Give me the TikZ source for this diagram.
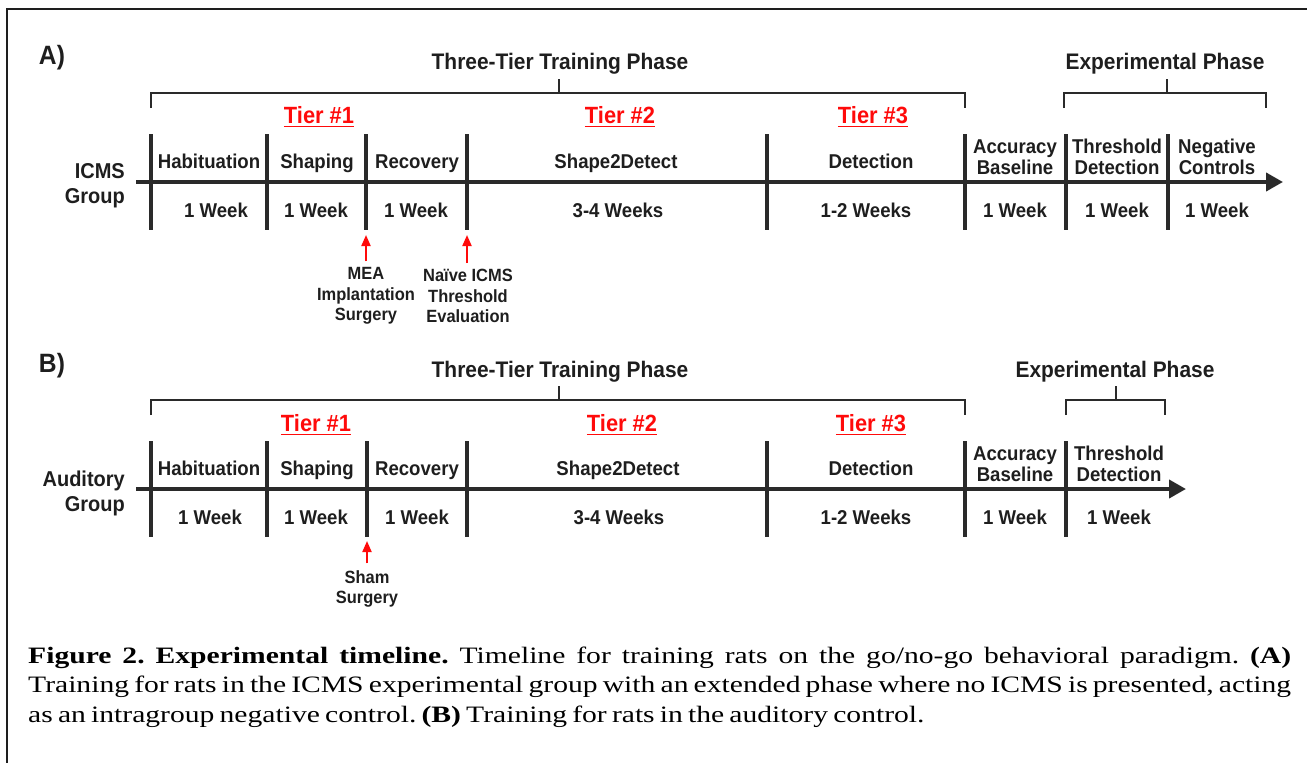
\documentclass[tikz,border=0pt]{standalone}
\usepackage{fontspec}
\setmainfont{Liberation Serif}
\newfontfamily\capfont[FakeStretch=1.26]{Liberation Serif}
\newfontfamily\diag[FakeStretch=0.93]{Liberation Sans}
\usetikzlibrary{arrows.meta}
\definecolor{txt}{HTML}{1E1E1E}
\definecolor{ln}{HTML}{2A2A2A}
\definecolor{tred}{HTML}{FF0A0A}
\tikzset{
  every node/.style={inner sep=0pt, text=txt},
  lbl/.style={font=\diag\bfseries\fontsize{20}{21.5}\selectfont, align=center},
  lblb/.style={lbl, anchor=base},
  small/.style={font=\diag\bfseries\fontsize{17.7}{20.5}\selectfont, align=center},
  grp/.style={font=\diag\bfseries\fontsize{21.5}{25}\selectfont, align=right, anchor=east},
  ttl/.style={font=\diag\bfseries\fontsize{22.5}{26}\selectfont, anchor=base},
  panel/.style={font=\diag\bfseries\fontsize{26.5}{28}\selectfont, anchor=base},
  tier/.style={font=\diag\bfseries\fontsize{23.5}{27}\selectfont, text=tred, anchor=base},
  axisline/.style={draw=ln, line width=4pt, -{Triangle[length=17pt,width=18pt]}},
  divline/.style={draw=ln, line width=3.2pt},
  brk/.style={draw=ln, line width=2.3pt},
  redarr/.style={draw=tred, line width=2pt, -{Triangle[length=11pt,width=9pt]}},
  uline/.style={draw=tred, line width=1.8pt}
}
\begin{document}
\begin{tikzpicture}[x=1pt,y=-1pt]
\useasboundingbox (0,0) rectangle (1307,763);
\draw[line width=2pt, draw=txt] (7,9) rectangle (1330,790);

% ================= Panel A =================
\node[panel] (Alab) at (52,64) {A)};
\node[ttl] (Atitle) at (560,69) {Three-Tier Training Phase};
\node[ttl] (Aexp) at (1165,69) {Experimental Phase};
\draw[brk] (151,108) -- (151,93) -- (965,93) -- (965,108);
\draw[brk] (559,93) -- (559,79);
\draw[brk] (1064,108) -- (1064,93) -- (1266,93) -- (1266,108);
\draw[brk] (1167,93) -- (1167,79);
\foreach \n/\x/\t in {At1/319/1, At2/620/2, At3/873/3}{
  \node[tier] (\n) at (\x,123) {Tier \#\t};
  \draw[uline] ([yshift=-3.5pt]\n.base west) -- ([yshift=-3.5pt]\n.base east);
}
\coordinate (Aax0) at (136,182);
\coordinate (Aax1) at (1283,182);
\draw[axisline] (Aax0) -- (Aax1);
\foreach \x in {151,267,366,467,767,965,1066,1168}{
  \draw[divline] (\x,134) -- (\x,230);
}
\node[grp] (Agrp) at (125,186) {ICMS\\Group};
\node[lblb] (Ahab) at (209,168) {Habituation};
\node[lblb] (Ashp) at (317,168) {Shaping};
\node[lblb] (Arec) at (417,168) {Recovery};
\node[lblb] (As2d) at (616,168) {Shape2Detect};
\node[lblb] (Adet) at (871,168) {Detection};
\node[lbl] (Aacc) at (1015,157) {Accuracy\\Baseline};
\node[lbl] (Athr) at (1117,157) {Threshold\\Detection};
\node[lbl] (Aneg) at (1217,157) {Negative\\Controls};
\node[lblb] (Aw1) at (216,217) {1 Week};
\node[lblb] (Aw2) at (316,217) {1 Week};
\node[lblb] (Aw3) at (416,217) {1 Week};
\node[lblb] (Aw4) at (618,217) {3-4 Weeks};
\node[lblb] (Aw5) at (866,217) {1-2 Weeks};
\node[lblb] (Aw6) at (1015,217) {1 Week};
\node[lblb] (Aw7) at (1117,217) {1 Week};
\node[lblb] (Aw8) at (1217,217) {1 Week};
\node[small] (Amea) at (366,296) {MEA\\Implantation\\Surgery};
\node[small] (Anaive) at (468,296) {Na\"ive ICMS\\Threshold\\Evaluation};
\coordinate (Amea-t) at (366,235);
\coordinate (Anaive-t) at (467,235);
\draw[redarr] ([yshift=6pt]Amea.north) -- (Amea-t);
\draw[redarr] ([yshift=6pt]Anaive.north -| Anaive-t) -- (Anaive-t);

% ================= Panel B =================
\node[panel] (Blab) at (52,372) {B)};
\node[ttl] (Btitle) at (560,377) {Three-Tier Training Phase};
\node[ttl] (Bexp) at (1115,377) {Experimental Phase};
\draw[brk] (151,415) -- (151,400) -- (965,400) -- (965,415);
\draw[brk] (559,400) -- (559,386);
\draw[brk] (1066,415) -- (1066,400) -- (1165,400) -- (1165,415);
\draw[brk] (1116,400) -- (1116,386);
\foreach \n/\x/\t in {Bt1/316/1, Bt2/622/2, Bt3/871/3}{
  \node[tier] (\n) at (\x,431) {Tier \#\t};
  \draw[uline] ([yshift=-3.5pt]\n.base west) -- ([yshift=-3.5pt]\n.base east);
}
\coordinate (Bax0) at (136,489);
\coordinate (Bax1) at (1186,489);
\draw[axisline] (Bax0) -- (Bax1);
\foreach \x in {151,267,367,467,767,965,1066}{
  \draw[divline] (\x,441) -- (\x,537);
}
\node[grp] (Bgrp) at (125,493) {Auditory\\Group};
\node[lblb] (Bhab) at (209,475) {Habituation};
\node[lblb] (Bshp) at (317,475) {Shaping};
\node[lblb] (Brec) at (417,475) {Recovery};
\node[lblb] (Bs2d) at (618,475) {Shape2Detect};
\node[lblb] (Bdet) at (871,475) {Detection};
\node[lbl] (Bacc) at (1015,464) {Accuracy\\Baseline};
\node[lbl] (Bthr) at (1119,464) {Threshold\\Detection};
\node[lblb] (Bw1) at (210,524) {1 Week};
\node[lblb] (Bw2) at (316,524) {1 Week};
\node[lblb] (Bw3) at (417,524) {1 Week};
\node[lblb] (Bw4) at (619,524) {3-4 Weeks};
\node[lblb] (Bw5) at (866,524) {1-2 Weeks};
\node[lblb] (Bw6) at (1015,524) {1 Week};
\node[lblb] (Bw7) at (1119,524) {1 Week};
\node[small] (Bsham) at (367,589) {Sham\\Surgery};
\coordinate (Bsham-t) at (367,541);
\draw[redarr] ([yshift=7pt]Bsham.north) -- (Bsham-t);

% ================= Caption =================
\node[anchor=base west, text=black] (cap) at (28,663)
 {\parbox[t]{1263pt}{\capfont\fontsize{23.5}{29.5}\selectfont\frenchspacing
 \hyphenpenalty=10000 \exhyphenpenalty=10000 \tolerance=9999 \hfuzz=30pt
 \spaceskip=0.22em plus 0.3em minus 0.1em
 \textbf{Figure 2. Experimental timeline.} Timeline for training rats on the go/no-go behavioral paradigm. \textbf{(A)}\linebreak Training for rats in the ICMS experimental group with an extended phase where no ICMS is presented, acting\linebreak as an intragroup negative control. \textbf{(B)} Training for rats in the auditory control.}};
\end{tikzpicture}
\end{document}
